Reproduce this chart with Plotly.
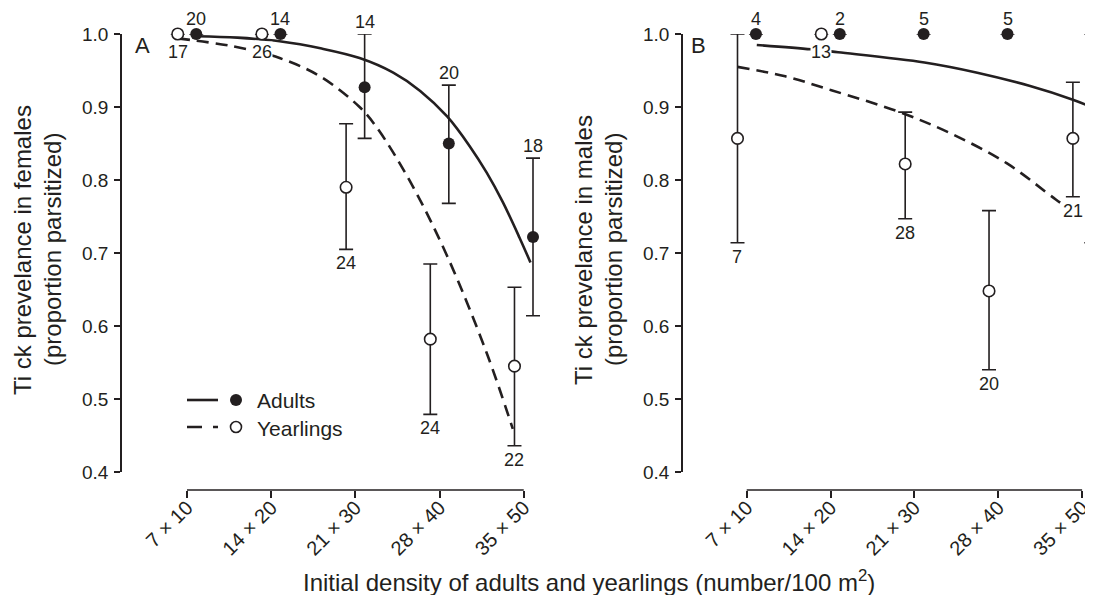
import plotly.graph_objects as go

# ---------------- data ----------------
categories = ["7 × 10", "14 × 20", "21 × 30", "28 × 40", "35 × 50"]
y_ticks = [0.4, 0.5, 0.6, 0.7, 0.8, 0.9, 1.0]

# Panel A: females
fem_adult_p = [1.0, 1.0, 0.927, 0.850, 0.722]
fem_adult_lo = [None, None, 0.857, 0.768, 0.614]
fem_adult_hi = [None, None, 1.0, 0.930, 0.830]
fem_adult_n = [20, 14, 14, 20, 18]

fem_year_p = [1.0, 1.0, 0.790, 0.582, 0.545]
fem_year_lo = [None, None, 0.705, 0.479, 0.436]
fem_year_hi = [None, None, 0.877, 0.685, 0.653]
fem_year_n = [17, 26, 24, 24, 22]

fem_adult_fit_x = [0.11, 0.6, 1.10, 1.6, 2.05, 2.45, 2.77, 3.09, 3.36, 3.56, 3.75, 3.95, 4.08]
fem_adult_fit_y = [0.997, 0.995, 0.990, 0.980, 0.967, 0.947, 0.922, 0.887, 0.846, 0.810, 0.770, 0.721, 0.687]
fem_year_fit_x = [-0.11, 0.55, 1.10, 1.58, 2.05, 2.26, 2.65, 3.09, 3.56, 3.87]
fem_year_fit_y = [0.994, 0.983, 0.967, 0.942, 0.900, 0.871, 0.798, 0.696, 0.563, 0.459]

# Panel B: males
male_adult_p = [1.0, 1.0, 1.0, 1.0, 0.857]
male_adult_lo = [None, None, None, None, 0.714]
male_adult_hi = [None, None, None, None, 1.0]
male_adult_n = [4, 2, 5, 5, 7]

male_year_p = [0.857, 1.0, 0.822, 0.648, 0.857]
male_year_lo = [0.714, None, 0.747, 0.540, 0.777]
male_year_hi = [1.0, None, 0.893, 0.758, 0.934]
male_year_n = [7, 13, 28, 20, 21]

male_adult_fit_x = [0.12, 0.77, 1.09, 2.12, 2.75, 3.37, 3.89, 4.11]
male_adult_fit_y = [0.985, 0.979, 0.975, 0.961, 0.947, 0.929, 0.910, 0.900]
male_year_fit_x = [-0.11, 0.46, 1.01, 1.80, 2.43, 3.10, 3.69, 3.89]
male_year_fit_y = [0.955, 0.942, 0.923, 0.894, 0.864, 0.823, 0.773, 0.757]

# ---------------- style / geometry ----------------
DARK = "#231f20"
FONT = "Liberation Sans"
ADULT_OFF = 0.11
YEAR_OFF = -0.11
PX_OFF = 9.3           # pixel equivalent of the offset, for labels
BODY = 8               # default page margin of the html body
W, H = 1093 - BODY, 595 - BODY
MT, MB = 34 - BODY, 105
PAPER_H = H - MT - MB


def px_x(sx):
    """screen x pixel -> paper fraction"""
    return (sx - BODY) / W


def px_y(sy):
    """screen y pixel -> paper fraction"""
    return (H - MB - (sy - BODY)) / PAPER_H


fig = go.Figure()


def add_panel(xa, ya, adult_p, adult_lo, adult_hi, adult_n,
              year_p, year_lo, year_hi, year_n,
              afx, afy, yfx, yfy):
    fig.add_trace(go.Scatter(x=afx, y=afy, mode="lines", line_shape="spline",
                             line=dict(color=DARK, width=2.6),
                             xaxis=xa, yaxis=ya, cliponaxis=False, hoverinfo="skip"))
    fig.add_trace(go.Scatter(x=yfx, y=yfy, mode="lines", line_shape="spline",
                             line=dict(color=DARK, width=2.6, dash="12px,7px"),
                             xaxis=xa, yaxis=ya, cliponaxis=False, hoverinfo="skip"))

    def errs(p, lo, hi):
        plus = [(h - v) if h is not None else None for v, h in zip(p, hi)]
        minus = [(v - l) if l is not None else None for v, l in zip(p, lo)]
        return plus, minus

    plus, minus = errs(year_p, year_lo, year_hi)
    fig.add_trace(go.Scatter(
        x=[i + YEAR_OFF for i in range(len(categories))], y=year_p, mode="markers",
        marker=dict(color="white", size=11.5, line=dict(color=DARK, width=1.6)),
        error_y=dict(type="data", symmetric=False, array=plus, arrayminus=minus,
                     color=DARK, thickness=1.6, width=7),
        xaxis=xa, yaxis=ya, cliponaxis=False))
    plus, minus = errs(adult_p, adult_lo, adult_hi)
    fig.add_trace(go.Scatter(
        x=[i + ADULT_OFF for i in range(len(categories))], y=adult_p, mode="markers",
        marker=dict(color=DARK, size=12, line=dict(width=0)),
        error_y=dict(type="data", symmetric=False, array=plus, arrayminus=minus,
                     color=DARK, thickness=1.6, width=7),
        xaxis=xa, yaxis=ya, cliponaxis=False))

    for i, (v, h, n) in enumerate(zip(adult_p, adult_hi, adult_n)):
        fig.add_annotation(x=i, y=h if h is not None else v, xref=xa, yref=ya,
                           text=str(n), showarrow=False, xshift=PX_OFF,
                           yshift=12 if h is not None else 15, yanchor="middle",
                           font=dict(size=18, color=DARK, family=FONT))
    for i, (v, l, n) in enumerate(zip(year_p, year_lo, year_n)):
        fig.add_annotation(x=i, y=l if l is not None else v, xref=xa, yref=ya,
                           text=str(n), showarrow=False, xshift=-PX_OFF,
                           yshift=-14 if l is not None else -18, yanchor="middle",
                           bgcolor="white", borderpad=0,
                           font=dict(size=18, color=DARK, family=FONT))
    fig.add_shape(type="line", xref=xa, yref="paper", x0=0, x1=len(categories) - 1,
                  y0=0, y1=0, line=dict(color=DARK, width=1.6))


add_panel("x", "y", fem_adult_p, fem_adult_lo, fem_adult_hi, fem_adult_n,
          fem_year_p, fem_year_lo, fem_year_hi, fem_year_n,
          fem_adult_fit_x, fem_adult_fit_y, fem_year_fit_x, fem_year_fit_y)
add_panel("x2", "y2", male_adult_p, male_adult_lo, male_adult_hi, male_adult_n,
          male_year_p, male_year_lo, male_year_hi, male_year_n,
          male_adult_fit_x, male_adult_fit_y, male_year_fit_x, male_year_fit_y)

xcommon = dict(anchor="free", position=0, showline=False, showgrid=False, zeroline=False,
               ticks="outside", ticklen=7, tickwidth=1.6, tickcolor=DARK,
               tickvals=list(range(len(categories))), ticktext=categories, tickangle=-45,
               ticklabeloverflow="allow", ticklabelstandoff=-10,
               tickfont=dict(size=20, color=DARK, family=FONT))
ycommon = dict(range=[0.4, 1.0], domain=[18 / PAPER_H, 1], showline=True, linecolor=DARK,
               linewidth=1.6, showgrid=False, zeroline=False, ticks="outside", ticklen=6,
               tickwidth=1.6, tickcolor=DARK, tickvals=y_ticks, tickformat=".1f",
               ticklabelstandoff=2,
               tickfont=dict(size=19, color=DARK, family=FONT))

fig.update_layout(
    width=W, height=H,
    margin=dict(l=0, r=0, t=MT, b=MB, autoexpand=False),
    paper_bgcolor="white", plot_bgcolor="white",
    showlegend=False,
    font=dict(family=FONT, color=DARK),
    xaxis=dict(domain=[px_x(122), px_x(549)], range=[-0.772, 4.30], **xcommon),
    xaxis2=dict(domain=[px_x(683), 1.0], range=[-0.76, 4.13], **xcommon),
    yaxis=dict(anchor="x", **ycommon),
    yaxis2=dict(anchor="x2", **ycommon),
)

# panel letters
for sx, letter in [(133, "A"), (689, "B")]:
    fig.add_annotation(x=px_x(sx), y=px_y(45), xref="paper", yref="paper", text=letter,
                       showarrow=False, xanchor="left", yanchor="middle",
                       font=dict(size=22, color=DARK, family=FONT))

# axis titles
for sx, txt in [(22, "Ti ck prevelance in females"), (52, "(proportion parsitized)"),
                (583, "Ti ck prevelance in males"), (613, "(proportion parsitized)")]:
    fig.add_annotation(x=px_x(sx), y=px_y(250), xref="paper", yref="paper", text=txt,
                       showarrow=False, textangle=-90, xanchor="center", yanchor="middle",
                       font=dict(size=24, color=DARK, family=FONT))
fig.add_annotation(x=px_x(589), y=px_y(581), xref="paper", yref="paper",
                   text="Initial density of adults and yearlings (number/100 m<sup>2</sup>)",
                   showarrow=False, xanchor="center", yanchor="middle",
                   font=dict(size=24, color=DARK, family=FONT))

# legend (drawn by hand: line sample, marker sample, label)
fig.add_shape(type="line", xref="paper", yref="paper", x0=px_x(187), x1=px_x(218),
              y0=px_y(400), y1=px_y(400), line=dict(color=DARK, width=2.6))
fig.add_shape(type="line", xref="paper", yref="paper", x0=px_x(187), x1=px_x(218),
              y0=px_y(427), y1=px_y(427), line=dict(color=DARK, width=2.6, dash="15px,11px"))
fig.add_shape(type="circle", xref="paper", yref="paper", xsizemode="pixel", ysizemode="pixel",
              xanchor=px_x(236), yanchor=px_y(400), x0=-6, x1=6, y0=-6, y1=6,
              fillcolor=DARK, line=dict(width=0))
fig.add_shape(type="circle", xref="paper", yref="paper", xsizemode="pixel", ysizemode="pixel",
              xanchor=px_x(236), yanchor=px_y(427), x0=-5.5, x1=5.5, y0=-5.5, y1=5.5,
              fillcolor="white", line=dict(color=DARK, width=1.6))
fig.add_annotation(x=px_x(255), y=px_y(400), xref="paper", yref="paper", text="Adults",
                   showarrow=False, xanchor="left", yanchor="middle",
                   font=dict(size=21, color=DARK, family=FONT))
fig.add_annotation(x=px_x(255), y=px_y(428), xref="paper", yref="paper", text="Yearlings",
                   showarrow=False, xanchor="left", yanchor="middle",
                   font=dict(size=21, color=DARK, family=FONT))

fig.write_html("out.html")
